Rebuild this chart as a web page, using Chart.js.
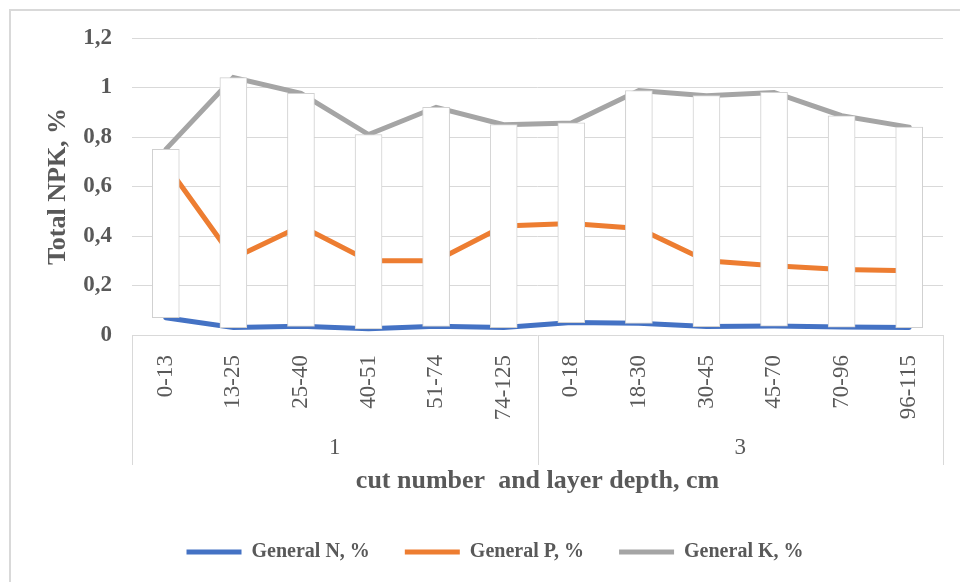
<!DOCTYPE html>
<html>
<head>
<meta charset="utf-8">
<script src="https://cdn.jsdelivr.net/npm/chart.js@4.4.1/dist/chart.umd.min.js"></script>
<style>
  html, body { margin: 0; padding: 0; background: #fff; }
  #wrap { position: relative; width: 960px; height: 582px; overflow: hidden; }
  #frame { position: absolute; left: 9px; top: 9px; width: 980px; height: 600px; border: 2px solid #d9d9d9; pointer-events: none; }
  canvas { position: absolute; left: 0; top: 0; }
</style>
</head>
<body>
<div id="wrap">
  <canvas id="grafica" width="960" height="582"></canvas>
  <div id="frame"></div>
</div>
<script>
// categorias: profundidad de capa y numero de corte
const depthLabels = ['0-13', '13-25', '25-40', '40-51', '51-74', '74-125', '0-18', '18-30', '30-45', '45-70', '70-96', '96-115'];
const cutLabels = ['1', '3'];

// valores
const nValues = [0.07, 0.03, 0.035, 0.025, 0.035, 0.03, 0.05, 0.047, 0.034, 0.036, 0.032, 0.03];
const pValues = [0.69, 0.31, 0.44, 0.30, 0.30, 0.44, 0.45, 0.43, 0.30, 0.28, 0.265, 0.26];
const kValues = [0.75, 1.04, 0.976, 0.81, 0.92, 0.85, 0.857, 0.988, 0.967, 0.98, 0.886, 0.84];

const textGrey = '#595959';
const serif = "'Liberation Serif', 'Times New Roman', serif";

// barras arriba/abajo entre N y K
const upDownBars = nValues.map((n, i) => [n, kValues[i]]);

// lineas separadoras de los grupos bajo el eje
const groupLines = {
    id: 'groupLines',
    afterDraw(chart) {
        const x = chart.scales.x;
        const x2 = chart.scales.x2;
        const ctx = chart.ctx;
        const per = depthLabels.length / cutLabels.length;
        ctx.save();
        ctx.strokeStyle = '#d9d9d9';
        ctx.lineWidth = 1;
        for (let g = 0; g <= cutLabels.length; g++) {
            const px = Math.round(x.getPixelForValue(g * per - 0.5)) + 0.5;
            ctx.beginPath();
            ctx.moveTo(px, chart.chartArea.bottom);
            ctx.lineTo(px, x2.top + 40);
            ctx.stroke();
        }
        ctx.restore();
    }
};

const ctx = document.getElementById('grafica').getContext('2d');
const chart = new Chart(ctx, {
    type: 'line',
    data: {
        labels: depthLabels,
        datasets: [{
            label: 'General N, %',
            data: nValues,
            borderColor: '#4472C4',
            backgroundColor: '#4472C4',
            borderWidth: 5,
            pointRadius: 0,
            borderCapStyle: 'round',
            order: 1
        }, {
            label: 'General P, %',
            data: pValues,
            borderColor: '#ED7D31',
            backgroundColor: '#ED7D31',
            borderWidth: 5,
            pointRadius: 0,
            borderCapStyle: 'round',
            order: 2
        }, {
            label: 'General K, %',
            data: kValues,
            borderColor: '#A5A5A5',
            backgroundColor: '#A5A5A5',
            borderWidth: 5,
            pointRadius: 0,
            borderCapStyle: 'round',
            order: 3
        }, {
            type: 'bar',
            label: 'updown',
            data: upDownBars,
            backgroundColor: '#ffffff',
            borderColor: '#d0d0d0',
            borderWidth: 1,
            borderSkipped: false,
            barThickness: 27,
            order: 0
        }]
    },
    options: {
        responsive: false,
        animation: false,
        layout: { padding: { top: 38, right: 17, left: 47, bottom: 10 } },
        plugins: {
            tooltip: { enabled: false },
            legend: {
                position: 'bottom',
                labels: {
                    filter: item => item.text !== 'updown',
                    usePointStyle: true,
                    pointStyle: 'line',
                    pointStyleWidth: 55,
                    padding: 35,
                    color: textGrey,
                    font: { family: serif, size: 20, weight: 'bold' }
                }
            }
        },
        scales: {
            y: {
                min: 0,
                max: 1.2,
                ticks: {
                    stepSize: 0.2,
                    padding: 20,
                    color: textGrey,
                    font: { family: serif, size: 23, weight: 'bold' },
                    callback: v => String(parseFloat(v.toFixed(1))).replace('.', ',')
                },
                grid: { color: '#d9d9d9', drawTicks: false },
                border: { display: false },
                title: {
                    display: true,
                    text: 'Total NPK, %',
                    color: textGrey,
                    font: { family: serif, size: 26, weight: 'bold' },
                    padding: { top: -4, bottom: 0 }
                },
                afterFit: s => { s.width = 85; }
            },
            x: {
                offset: true,
                ticks: {
                    minRotation: 90,
                    maxRotation: 90,
                    padding: 12,
                    color: textGrey,
                    font: { family: serif, size: 23 }
                },
                grid: { display: false },
                border: { display: false },
                afterFit: s => { s.height = 90; }
            },
            x2: {
                type: 'category',
                position: 'bottom',
                labels: cutLabels,
                offset: true,
                ticks: {
                    padding: 1,
                    color: textGrey,
                    font: { family: serif, size: 23 }
                },
                grid: { display: false },
                border: { display: false },
                title: {
                    display: true,
                    text: 'cut number  and layer depth, cm',
                    color: textGrey,
                    font: { family: serif, size: 26, weight: 'bold' },
                    padding: { top: 0, bottom: 10 }
                },
                afterFit: s => { s.height = 82; }
            }
        }
    },
    plugins: [groupLines]
});
</script>
</body>
</html>
